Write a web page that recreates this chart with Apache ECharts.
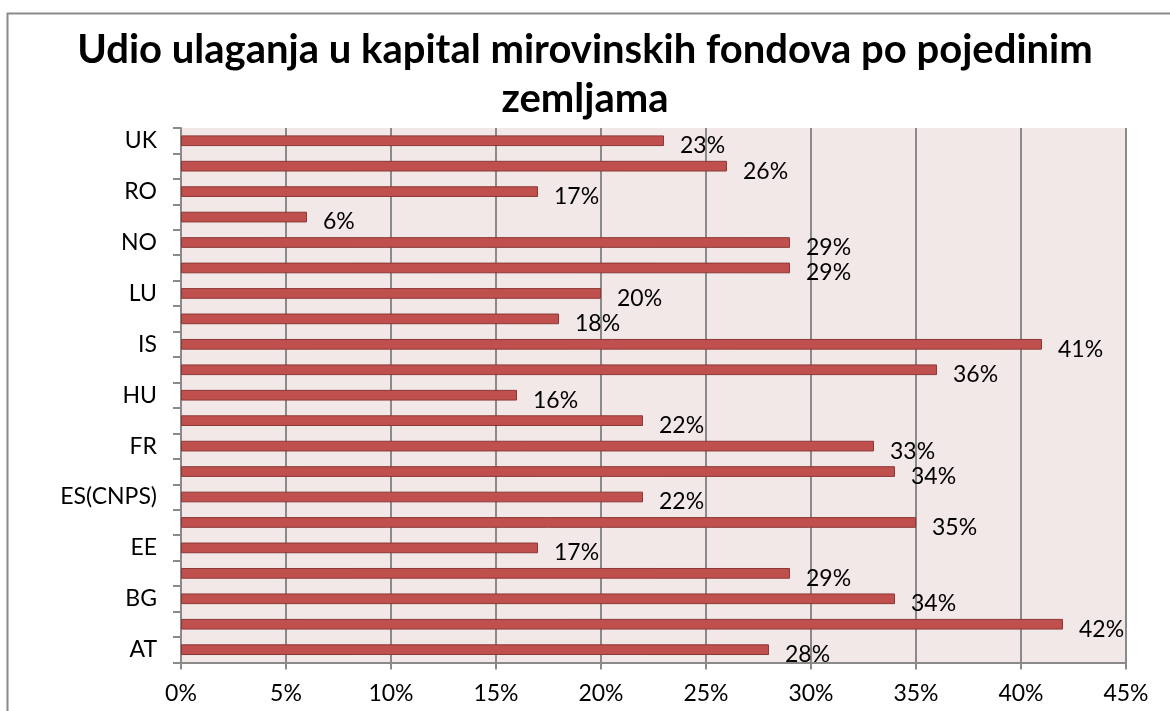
<html>

<head>
    <script src="https://cdn.jsdelivr.net/npm/echarts@6/dist/echarts.min.js"></script>
    <style>
        body {
            margin: 0;
            background: #fff;
        }
        #chart {
            width: 1170px;
            height: 711px;
        }
    </style>
</head>

<body>
    <div id="chart"></div>

    <script>
        // bottom to top; every other label is hidden in the original
        const countries = ['AT', 'BE', 'BG', 'CZ', 'EE', 'ES', 'ES(CNPS)', 'FI', 'FR', 'GR', 'HU',
            'IE', 'IS', 'IT', 'LU', 'NL', 'NO', 'PL', 'RO', 'SE', 'UK'];
        const shares = [28, 42, 34, 29, 17, 35, 22, 34, 33, 22, 16, 36, 41, 18, 20, 29, 29, 6, 17, 26, 23];

        const titleText = 'Udio ulaganja u kapital mirovinskih fondova po pojedinim\nzemljama';
        const font = 'Lato, "Open Sans", sans-serif';

        const chartDom = document.getElementById('chart');
        const myChart = echarts.init(chartDom);

        const option = {
            animation: false,
            textStyle: { fontFamily: font },
            title: {
                text: titleText,
                left: 'center',
                top: 21,
                textStyle: {
                    fontFamily: font,
                    fontSize: 40,
                    fontWeight: 'bold',
                    color: '#000',
                    lineHeight: 49
                }
            },
            graphic: [{
                type: 'rect',
                shape: { x: 7.5, y: 13.5, width: 1200, height: 800 },
                style: { fill: 'none', stroke: '#8a8a8a', lineWidth: 2 },
                silent: true
            }],
            grid: {
                left: 181,
                right: 44,
                top: 128,
                bottom: 46,
                show: true,
                backgroundColor: '#f2e8e8',
                borderWidth: 0
            },
            xAxis: {
                type: 'value',
                min: 0,
                max: 45,
                interval: 5,
                axisLabel: {
                    formatter: '{value}%',
                    fontSize: 23,
                    color: '#000',
                    margin: 14
                },
                axisLine: { show: true, lineStyle: { color: '#8a8a8a', width: 2 } },
                axisTick: { show: true, length: 7, lineStyle: { color: '#8a8a8a', width: 2 } },
                splitLine: { show: true, lineStyle: { color: '#8a8a8a', width: 2 } }
            },
            yAxis: {
                type: 'category',
                data: countries,
                axisLabel: {
                    interval: 1,
                    fontSize: 23,
                    color: '#000',
                    margin: 24
                },
                axisLine: { show: true, lineStyle: { color: '#8a8a8a', width: 2 } },
                axisTick: { show: true, interval: 0, length: 8, lineStyle: { color: '#8a8a8a', width: 2 } },
                splitLine: { show: false }
            },
            series: [{
                type: 'bar',
                data: shares,
                barWidth: '42%',
                itemStyle: {
                    color: '#c0504d',
                    borderColor: '#8c3836',
                    borderWidth: 1
                },
                label: {
                    show: true,
                    position: 'right',
                    distance: 16,
                    offset: [0, 5],
                    formatter: '{c}%',
                    fontSize: 23,
                    color: '#000'
                }
            }]
        };

        myChart.setOption(option);
    </script>
</body>

</html>
